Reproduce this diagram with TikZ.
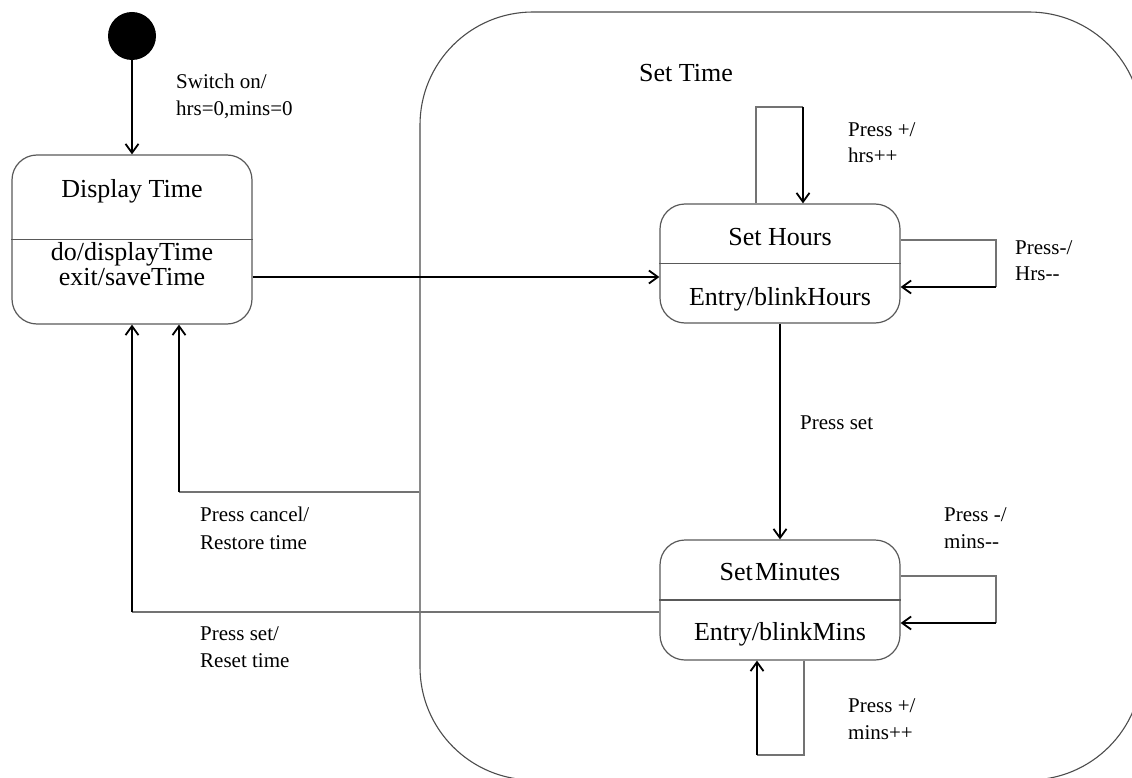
\documentclass[tikz,border=0pt]{standalone}
\usepackage{fontspec}
\setmainfont{Liberation Serif}
\usetikzlibrary{arrows.meta}
\begin{document}
\begin{tikzpicture}[x=1pt,y=-1pt,
  statebox/.style={draw=black!65, line width=1.2pt, rounded corners=25pt, inner sep=0pt},
  big/.style={font=\fontsize{26}{30}\selectfont, inner sep=0pt, anchor=base},
  lbl/.style={font=\fontsize{21}{27}\selectfont, inner sep=0pt, anchor=base west},
  trans/.style={draw=black, line width=1.8pt, -{Straight Barb[length=9pt,width=13pt]}},
  seg/.style={draw=black!55, line width=1.3pt}]
\useasboundingbox (0,0) rectangle (1132,778);
\clip (0,0) rectangle (1132,778);
% composite state
\node[draw=black!70, line width=1.1pt, rounded corners=113pt, minimum width=722pt, minimum height=768pt, inner sep=0pt] (settime) at (781,396) {};
\node[big] (settimelbl) at (686,82) {Set Time};
% initial
\node[circle, fill=black, minimum size=48pt, inner sep=0pt] (init) at (132,36) {};
% Display Time
\node[statebox, minimum width=240pt, minimum height=169pt] (dt) at (132,239.5) {};
\draw[draw=black!65, line width=1.2pt] (dt.west) -- (dt.east);
\node[big] (dtt) at (132,198) {Display Time};
\node[big] (dtdo) at (132,260) {do/displayTime};
\node[big] (dtexit) at (132,285) {exit/saveTime};
% Set Hours
\node[statebox, minimum width=240pt, minimum height=119pt] (sh) at (780,263.5) {};
\draw[draw=black!65, line width=1.2pt] (sh.west) -- (sh.east);
\node[big] (sht) at (780,245) {Set Hours};
\node[big] (shb) at (780,305) {Entry/blinkHours};
% Set Minutes
\node[statebox, minimum width=240pt, minimum height=120pt] (sm) at (780,600) {};
\draw[draw=black!65, line width=1.2pt] (sm.west) -- (sm.east);
\node[big] (smt) at (780,580) {Set\kern0.08em Minutes};
\node[big] (smb) at (780,640) {Entry/blinkMins};
% coordinates
\coordinate (dth) at (0,277);
\coordinate (shTL) at (756,107);
\coordinate (shTR) at (803,107);
\coordinate (shR1) at (996,240);
\coordinate (shR2) at (996,287);
\coordinate (smR1) at (996,576);
\coordinate (smR2) at (996,623);
\coordinate (smB1) at (804,755);
\coordinate (smB2) at (757,755);
\coordinate (cc) at (179,492);
\coordinate (ps) at (132,612);
% transitions
\draw[trans] (init) -- (dt.north);
\draw[trans] (dt.east |- dth) -- (sh.west |- dth);
\draw[seg] (sh.north -| shTL) -- (shTL) -- (shTR);
\draw[trans] (shTR) -- (sh.north -| shTR);
\draw[seg] (sh.east |- shR1) -- (shR1) -- (shR2);
\draw[trans] (shR2) -- (sh.east |- shR2);
\draw[trans] (sh.south) -- (sm.north);
\draw[seg] (sm.east |- smR1) -- (smR1) -- (smR2);
\draw[trans] (smR2) -- (sm.east |- smR2);
\draw[seg] (sm.south -| smB1) -- (smB1) -- (smB2);
\draw[trans] (smB2) -- (sm.south -| smB2);
\draw[seg] (settime.west |- cc) -- (cc);
\draw[trans] (cc) -- (dt.south -| cc);
\draw[seg] (sm.west |- ps) -- (ps);
\draw[trans] (ps) -- (dt.south -| ps);
% labels
\node[lbl] (l1a) at (176,89) {Switch on/};
\node[lbl] (l1b) at (176,116) {hrs=0,mins=0};
\node[lbl] (l2a) at (848,137) {Press +/};
\node[lbl] (l2b) at (848,163) {hrs++};
\node[lbl] (l3a) at (1015,254) {Press-/};
\node[lbl] (l3b) at (1015,280) {Hrs-{}-};
\node[lbl] (l4) at (800,429) {Press set};
\node[lbl] (l5a) at (944,521) {Press -/};
\node[lbl] (l5b) at (944,548) {mins-{}-};
\node[lbl] (l6a) at (848,712) {Press +/};
\node[lbl] (l6b) at (848,739) {mins++};
\node[lbl] (l7a) at (200,521) {Press cancel/};
\node[lbl] (l7b) at (200,549) {Restore time};
\node[lbl] (l8a) at (200,640) {Press set/};
\node[lbl] (l8b) at (200,667) {Reset time};
\end{tikzpicture}
\end{document}
